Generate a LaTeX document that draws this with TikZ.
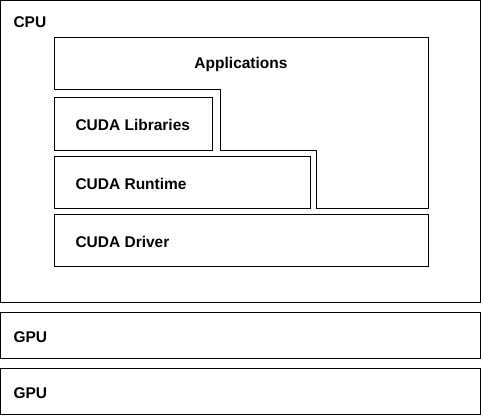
\documentclass[tikz,border=0pt]{standalone}
\usepackage{fontspec, tkz-euclide}
\setmainfont{Liberation Sans}

\begin{document}
\begin{tikzpicture}[x = 1pt, y = -1pt, line width = 1pt,
    every node/.style = {font = \fontsize{15.5}{18}\selectfont\bfseries, inner sep = 0pt}]
    \useasboundingbox (0,0) rectangle (481,415);
    \tkzDefPoints{0.5/0.5/C1, 480.5/302/C2, 0.5/312/G1, 480.5/358/G2, 0.5/368/H1, 480.5/414.5/H2}
    \tkzDefPoints{54/37/A1, 428/37/A2, 428/208/A3, 316/208/A4, 316/150/A5, 220/150/A6, 220/89/A7, 54/89/A8}
    \tkzDefPoints{54/97/L1, 212/150/L2, 54/156/R1, 310/208/R2, 54/214/D1, 428/266/D2}
    % host and devices
    \draw (C1) rectangle (C2);
    \draw (G1) rectangle (G2);
    \draw (H1) rectangle (H2);
    % software stack
    \tkzDrawPolygon(A1,A2,A3,A4,A5,A6,A7,A8)
    \draw (L1) rectangle (L2);
    \draw (R1) rectangle (R2);
    \draw (D1) rectangle (D2);
    \node (cpu) at (13,27.3) [anchor = base west] {CPU};
    \node (apps) at (241,68.3) [anchor = base] {Applications};
    \node (libs) at (75,130) [anchor = base west] {CUDA Libraries};
    \node (rt) at (75,189) [anchor = base west] {CUDA Runtime};
    \node (drv) at (75,247.5) [anchor = base west] {CUDA Driver};
    \node (gpua) at (13,342.3) [anchor = base west] {GPU};
    \node (gpub) at (13,398.3) [anchor = base west] {GPU};
\end{tikzpicture}
\end{document}
